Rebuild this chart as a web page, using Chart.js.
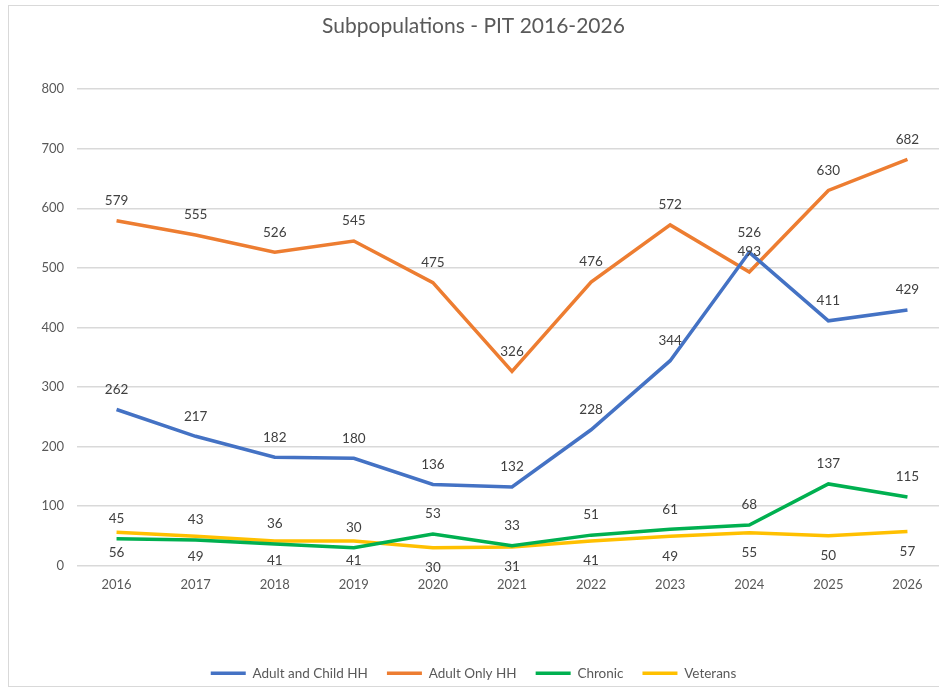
<!DOCTYPE html>
<html>
<head>
<meta charset="utf-8">
<script src="https://cdn.jsdelivr.net/npm/chart.js@4.4.1/dist/chart.umd.min.js"></script>
<style>
  html, body { margin: 0; padding: 0; background: #fff; overflow: hidden; }
  #frame {
    position: absolute; left: 8px; top: 5px; width: 960px; height: 682px;
    border: 1px solid #d9d9d9; box-sizing: border-box;
  }
  #chart { position: absolute; left: 0; top: 0; }
</style>
</head>
<body>
<div id="frame"></div>
<canvas id="chart" width="947" height="692"></canvas>
<script>
const years = ["2016", "2017", "2018", "2019", "2020", "2021", "2022", "2023", "2024", "2025", "2026"];
const adultChild = [262, 217, 182, 180, 136, 132, 228, 344, 526, 411, 429];
const adultOnly = [579, 555, 526, 545, 475, 326, 476, 572, 493, 630, 682];
const chronic = [45, 43, 36, 30, 53, 33, 51, 61, 68, 137, 115];
const veterans = [56, 49, 41, 41, 30, 31, 41, 49, 55, 50, 57];

const fontFamily = "Lato, 'Open Sans', sans-serif";

// simple value labels, drawn at the points chart.js placed
const valueLabels = {
  id: "valueLabels",
  afterDatasetsDraw(chart) {
    const ctx = chart.ctx;
    ctx.save();
    ctx.font = "13.5px " + fontFamily;
    ctx.fillStyle = "#404040";
    ctx.textAlign = "center";
    ctx.textBaseline = "middle";
    chart.data.datasets.forEach((ds, i) => {
      const meta = chart.getDatasetMeta(i);
      meta.data.forEach((pt, j) => {
        const dy = ds.labelPos === "below" ? 20 : -20;
        ctx.fillText(ds.data[j], pt.x, pt.y + dy);
      });
    });
    ctx.restore();
  },
};

const lineSet = (label, data, color, labelPos) => ({
  label: label,
  data: data,
  borderColor: color,
  backgroundColor: color,
  borderWidth: 3.5,
  pointRadius: 0,
  pointHoverRadius: 0,
  fill: false,
  tension: 0,
  labelPos: labelPos,
});

const ctx = document.getElementById("chart").getContext("2d");

new Chart(ctx, {
  type: "line",
  data: {
    labels: years,
    datasets: [
      lineSet("Adult and Child HH", adultChild, "#4472C4", "above"),
      lineSet("Adult Only HH", adultOnly, "#ED7D31", "above"),
      lineSet("Chronic", chronic, "#00B050", "above"),
      lineSet("Veterans", veterans, "#FFC000", "below"),
    ],
  },
  options: {
    responsive: false,
    animation: false,
    layout: { padding: { left: 0, right: 0, top: 0, bottom: 2 } },
    scales: {
      y: {
        min: 0,
        max: 800,
        ticks: {
          stepSize: 100,
          padding: 13,
          color: "#595959",
          font: { size: 13, family: fontFamily },
        },
        grid: { color: "#d9d9d9", lineWidth: 1.5, drawTicks: false },
        border: { display: false },
        afterFit: (scale) => { scale.width = 77; },
      },
      x: {
        offset: true,
        ticks: {
          padding: 12,
          color: "#595959",
          font: { size: 13, family: fontFamily },
        },
        grid: { display: false, drawTicks: false },
        border: { display: false },
        afterFit: (scale) => { scale.height = 82; },
      },
    },
    plugins: {
      title: {
        display: true,
        text: "Subpopulations - PIT 2016-2026",
        color: "#595959",
        font: { size: 21, weight: "normal", family: fontFamily },
        padding: { top: 14, bottom: 50 },
      },
      legend: {
        position: "bottom",
        labels: {
          usePointStyle: true,
          pointStyle: "line",
          pointStyleWidth: 35,
          padding: 19,
          color: "#595959",
          font: { size: 13.5, family: fontFamily },
        },
      },
      tooltip: { enabled: false },
    },
  },
  plugins: [valueLabels],
});
</script>
</body>
</html>
